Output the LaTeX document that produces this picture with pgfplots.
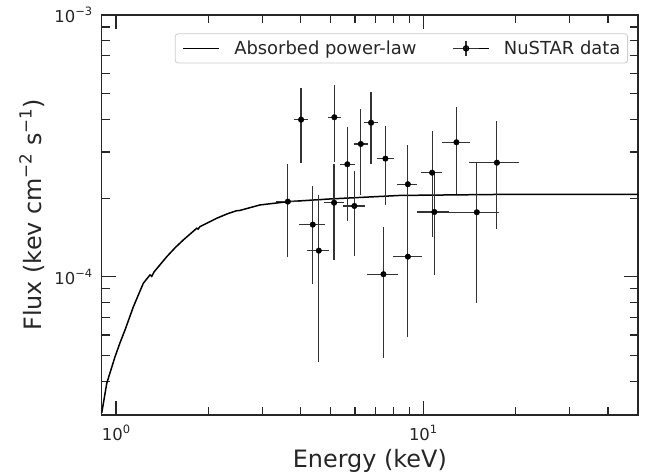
\documentclass[border=0pt]{standalone}
\usepackage{fontspec}
\setmainfont{DejaVu Sans}
\usepackage{pgfplots}
\usepackage{pgfplotstable}
\pgfplotsset{compat=1.18}

% superscript for tick labels and axis label
\newcommand{\spow}[2][11.5]{\raisebox{0.42em}{\fontsize{#1}{#1}\selectfont #2}}

% E, E-, E+, F, F-, F+ (absolute errors)
\pgfplotstableread{
E      Em     Ep     F         Fm        Fp
3.626  0.316  0.344  1.939e-4  0.750e-4  0.753e-4
4.005  0.205  0.225  3.985e-4  1.269e-4  1.265e-4
4.372  0.418  0.423  1.584e-4  0.644e-4  0.642e-4
4.574  0.374  0.379  1.260e-4  0.785e-4  0.796e-4
5.140  0.225  0.255  4.070e-4  1.316e-4  1.330e-4
5.130  0.370  0.400  1.921e-4  0.760e-4  0.771e-4
5.666  0.300  0.338  2.692e-4  1.052e-4  1.057e-4
5.972  0.497  0.502  1.866e-4  0.663e-4  0.673e-4
6.267  0.307  0.333  3.218e-4  1.162e-4  1.147e-4
6.770  0.330  0.350  3.880e-4  1.181e-4  1.190e-4
7.540  0.440  0.470  2.830e-4  0.947e-4  0.940e-4
7.430  0.874  0.880  1.024e-4  0.534e-4  0.532e-4
8.920  0.710  0.660  2.259e-4  0.914e-4  0.931e-4
8.920  0.950  0.980  1.195e-4  0.603e-4  0.607e-4
10.70  0.850  0.860  2.500e-4  1.075e-4  1.107e-4
10.88  1.340  1.300  1.770e-4  0.752e-4  0.717e-4
12.84  1.330  1.390  3.267e-4  1.193e-4  1.173e-4
14.96  2.780  2.760  1.766e-4  0.973e-4  0.974e-4
17.39  3.240  3.200  2.730e-4  1.205e-4  1.210e-4
}\nustar

\begin{document}
\begin{tikzpicture}
\begin{loglogaxis}[
    scale only axis,
    width=536.3bp, height=400bp,
    xmin=0.898, xmax=50.1,
    ymin=2.97e-5, ymax=1e-3,
    axis line style={black!85, line width=1.3bp},
    tick align=inside,
    major tick length=14bp, minor tick length=8.5bp,
    every tick/.style={black!85, line width=1.1bp},
    xtick={1,10}, xticklabels={10\spow{0}, 10\spow{1}},
    minor xtick={2,3,4,5,6,7,8,9,20,30,40},
    ytick={1e-4,1e-3}, yticklabels={10\spow{−4}, 10\spow{−3}},
    minor ytick={4e-5,5e-5,6e-5,7e-5,8e-5,9e-5,2e-4,3e-4,4e-4,5e-4,6e-4,7e-4,8e-4,9e-4},
    ticklabel style={font=\fontsize{16.5}{18}\selectfont, text=black!85},
    xticklabel style={anchor=base, yshift=-25bp},
    yticklabel style={anchor=east, xshift=-6bp},
    xlabel={Energy (keV)},
    ylabel={Flux (kev cm\spow[16.8]{−2} s\spow[16.8]{−1})},
    label style={font=\fontsize{24}{28}\selectfont, text=black!85},
    xlabel style={at={([yshift=-52bp]axis description cs:0.5,0)}, anchor=base},
    ylabel style={at={([xshift=-60bp]axis description cs:0,0.5)}, anchor=base},
    legend columns=2,
    legend cell align=left,
    legend style={
        at={(0.9814,0.954)}, anchor=north east,
        draw=black!20, line width=0.8bp, rounded corners=3bp,
        fill=white, fill opacity=0.8, text opacity=1,
        font=\fontsize{18}{20}\selectfont, text=black!85,
        inner xsep=7.2bp, inner ysep=6.5bp,
        nodes={inner sep=0pt},
        column sep=14.4bp,
        /tikz/every even column/.append style={column sep=36bp},
    },
]
\addplot[black, line width=1.5bp,
    legend image code/.code={\draw[black, line width=1.5bp] (0bp,0bp) -- (36bp,0bp);}]
    coordinates {
    (0.898,3.02e-5) (0.933,3.93e-5) (0.9925,4.96e-5) (1.030,5.60e-5)
    (1.070,6.28e-5) (1.139,7.70e-5) (1.227,9.46e-5) (1.290,1.018e-4)
    (1.307,1.005e-4) (1.330,1.045e-4) (1.463,1.195e-4) (1.560,1.295e-4)
    (1.656,1.384e-4) (1.832,1.534e-4) (1.850,1.522e-4) (1.875,1.555e-4)
    (2.128,1.675e-4) (2.300,1.740e-4) (2.473,1.791e-4) (2.520,1.792e-4)
    (2.944,1.883e-4) (3.641,1.939e-4) (4.98,1.985e-4) (8.41,2.047e-4)
    (17.8,2.065e-4) (50.1,2.068e-4)
};
\addlegendentry{Absorbed power-law}
\addplot[black, only marks, mark=*, mark size=2.8bp,
    error bars/.cd, x dir=both, x explicit, y dir=both, y explicit,
    error bar style={black!80, line width=1.2bp}, error mark=none,
    /pgfplots/legend image code/.code={
        \path (0bp,0bp) -- (36bp,0bp);
        \draw[black!80, line width=1.2bp] (0bp,0bp) -- (26bp,0bp);
        \draw[black!80, line width=1.2bp] (13bp,-7.5bp) -- (13bp,7.5bp);
        \fill[black] (13bp,0bp) circle (2.8bp);}]
    table[x=E, y=F, x error minus=Em, x error plus=Ep,
          y error minus=Fm, y error plus=Fp] {\nustar};
\addlegendentry{NuSTAR data}
\end{loglogaxis}
\path ([shift={(-101.7bp,-60bp)}]current axis.south west)
    rectangle ([shift={(24bp,15bp)}]current axis.north east);
\end{tikzpicture}
\end{document}
